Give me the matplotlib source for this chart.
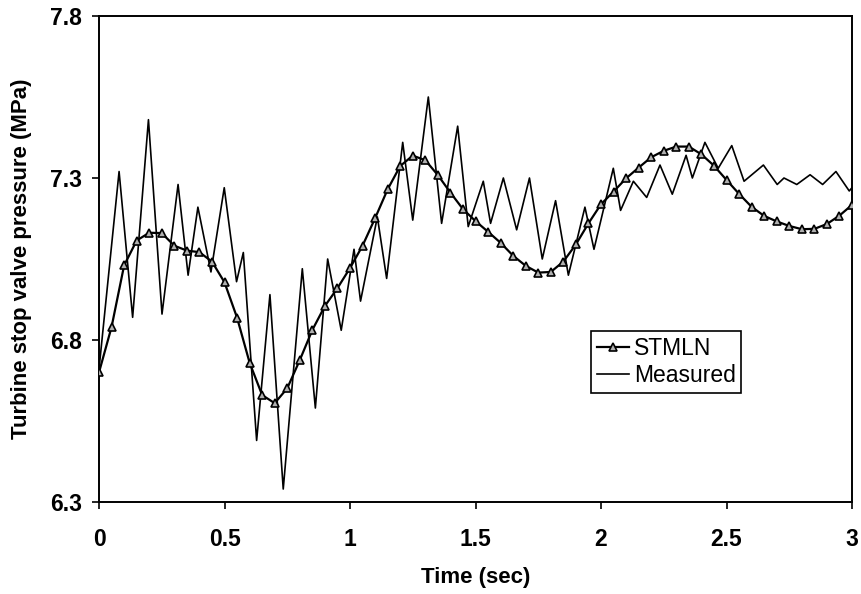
import matplotlib
matplotlib.use("Agg")
import matplotlib.pyplot as plt
import numpy as np

plt.rcParams['font.family'] = ['Liberation Sans', 'DejaVu Sans']

# STMLN model output, every 0.05 s
stmln_t = [round(0.05 * i, 2) for i in range(61)]
stmln_v = [6.70, 6.84, 7.03, 7.107, 7.131, 7.13, 7.091, 7.076, 7.071, 7.042,
           6.978, 6.869, 6.730, 6.630, 6.605, 6.651, 6.738, 6.831, 6.905, 6.960,
           7.022, 7.091, 7.176, 7.265, 7.337, 7.369, 7.355, 7.309, 7.255, 7.204,
           7.167, 7.134, 7.100, 7.060, 7.029, 7.008, 7.010, 7.042, 7.095, 7.160,
           7.219, 7.258, 7.299, 7.332, 7.364, 7.384, 7.397, 7.397, 7.373, 7.338,
           7.294, 7.251, 7.211, 7.183, 7.166, 7.152, 7.142, 7.143, 7.158, 7.184,
           7.217]

# Measured trace (vertices)
meas_t = [0.0, 0.080, 0.134, 0.197, 0.251, 0.315, 0.355, 0.394, 0.446, 0.499,
          0.548, 0.575, 0.628, 0.681, 0.734, 0.810, 0.862, 0.911, 0.965, 1.016,
          1.042, 1.109, 1.146, 1.210, 1.250, 1.312, 1.365, 1.429, 1.471, 1.531,
          1.560, 1.611, 1.664, 1.715, 1.766, 1.819, 1.870, 1.936, 1.972, 2.049,
          2.078, 2.129, 2.182, 2.235, 2.284, 2.339, 2.364, 2.414, 2.467, 2.521,
          2.570, 2.647, 2.702, 2.729, 2.780, 2.833, 2.883, 2.936, 2.989, 3.0]
meas_v = [6.71, 7.32, 6.87, 7.48, 6.88, 7.28, 7.00, 7.21, 7.01, 7.27,
          6.98, 7.07, 6.49, 6.94, 6.34, 7.02, 6.59, 7.05, 6.83, 7.08,
          6.92, 7.18, 6.99, 7.41, 7.17, 7.55, 7.16, 7.46, 7.15, 7.29,
          7.16, 7.30, 7.14, 7.30, 7.05, 7.23, 7.00, 7.21, 7.08, 7.33,
          7.20, 7.29, 7.24, 7.34, 7.25, 7.37, 7.30, 7.41, 7.33, 7.40,
          7.29, 7.34, 7.28, 7.30, 7.28, 7.31, 7.28, 7.32, 7.26, 7.27]

x_ticks = [0, 0.5, 1, 1.5, 2, 2.5, 3]
x_tick_labels = ['0', '0.5', '1', '1.5', '2', '2.5', '3']
y_ticks = [6.3, 6.8, 7.3, 7.8]
y_tick_labels = ['6.3', '6.8', '7.3', '7.8']

fig = plt.figure(figsize=(8.61, 5.94), dpi=100)
ax = fig.add_axes([99/861, 92/594, 753/861, 486/594])

ax.plot(stmln_t, stmln_v, color='black', lw=1.6, marker='^', markersize=6,
        markerfacecolor='#b0b0b0', markeredgecolor='black', markeredgewidth=1.2,
        label='STMLN', zorder=3)
ax.plot(meas_t, meas_v, color='black', lw=1.2, label='Measured', zorder=2)

ax.set_xlim(0, 3)
ax.set_ylim(6.3, 7.8)
ax.set_xticks(x_ticks)
ax.set_xticklabels(x_tick_labels)
ax.set_yticks(y_ticks)
ax.set_yticklabels(y_tick_labels)
for lab in ax.get_xticklabels() + ax.get_yticklabels():
    lab.set_fontweight('bold')
    lab.set_fontsize(16.5)
ax.tick_params(direction='out', length=5, width=1.2)
ax.tick_params(axis='x', pad=14)
ax.tick_params(axis='y', pad=7)
for s in ax.spines.values():
    s.set_linewidth(1.4)

ax.set_xlabel('Time (sec)', fontsize=16, fontweight='bold')
ax.set_ylabel('Turbine stop valve pressure (MPa)', fontsize=16, fontweight='bold')
ax.xaxis.set_label_coords(0.5, -0.134)
ax.yaxis.set_label_coords(-0.089, 0.5)

leg = ax.legend(loc='upper left', bbox_to_anchor=(0.654, 0.352), fontsize=16.5,
                frameon=True, fancybox=False, edgecolor='black', framealpha=1,
                handlelength=1.4, handletextpad=0.2, borderpad=0.25,
                labelspacing=0.2, borderaxespad=0)
leg.get_frame().set_linewidth(1.2)

fig.savefig('out.png', dpi=100)
